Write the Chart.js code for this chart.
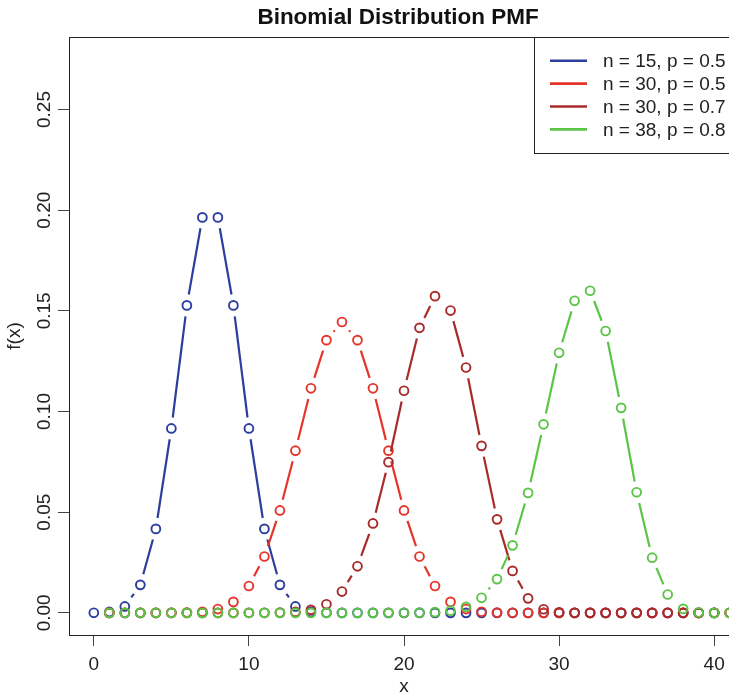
<!DOCTYPE html>
<html>
<head>
<meta charset="utf-8">
<script src="https://cdn.jsdelivr.net/npm/chart.js@4/dist/chart.umd.min.js"></script>
<style>
  html, body { margin: 0; padding: 0; background: #fff; overflow: hidden; }
  canvas { display: block; }
</style>
</head>
<body>
<canvas id="chart1" width="760" height="698"></canvas>
<script>
// x positions: first series starts at 0, the others are drawn one step to the right
const xBlue = [0,1,2,3,4,5,6,7,8,9,10,11,12,13,14,15,16,17,18,19,20,21,22,23,24,25,26,27,28,29,30,31,32,33,34,35,36,37,38,39,40];
const xOther = [1,2,3,4,5,6,7,8,9,10,11,12,13,14,15,16,17,18,19,20,21,22,23,24,25,26,27,28,29,30,31,32,33,34,35,36,37,38,39,40,41];

const n15p5 = [0.00003,0.00046,0.0032,0.0139,0.0417,0.0916,0.1527,0.1964,0.1964,0.1527,0.0916,0.0417,0.0139,0.0032,0.00046,0.00003,
  0,0,0,0,0,0,0,0,0,0,0,0,0,0,0,0,0,0,0,0,0,0,0,0,0];
const n30p5 = [0,0.00000003,0.0000004,0.0000038,0.0000255,0.000133,0.000553,0.001896,0.005451,0.013325,0.027982,0.050876,0.080553,0.111535,0.135435,0.144464,
  0.135435,0.111535,0.080553,0.050876,0.027982,0.013325,0.005451,0.001896,0.000553,0.000133,0.0000255,0.0000038,0.0000004,0.00000003,0,
  0,0,0,0,0,0,0,0,0,0];
const n30p7 = [0,0,0,0,0,0,0.00000002,0.00000016,0.00000106,0.00000604,0.0000296,0.0001256,0.000464,0.001499,0.004246,0.01057,
  0.02312,0.04442,0.07485,0.11031,0.14156,0.15729,0.15014,0.12186,0.08293,0.04644,0.02084,0.007204,0.001801,0.00029,0.0000225,
  0,0,0,0,0,0,0,0,0,0];
const n38p8 = [0,0,0,0,0,0,0,0,0,0,0,0,0,0,0,0,0.00000026,0.00000135,0.0000063,0.0000267,0.0001015,0.000348,0.001076,0.002993,0.007482,
  0.01676,0.03352,0.05958,0.09363,0.12915,0.15498,0.15998,0.13998,0.10181,0.05989,0.02738,0.009126,0.001973,0.000208,0,0];

const seriesNames = ['n = 15, p = 0.5', 'n = 30, p = 0.5', 'n = 30, p = 0.7', 'n = 38, p = 0.8'];
const seriesColors = ['#2d3f9e', '#e5352a', '#a82a2b', '#5cc548'];
const xTicks = [0, 10, 20, 30, 40];
const yTicks = [0, 0.05, 0.10, 0.15, 0.20, 0.25];
const yTickLabels = ['0.00', '0.05', '0.10', '0.15', '0.20', '0.25'];

const FONT = '"Liberation Sans", Arial, sans-serif';

function pts(xs, ys) {
  return xs.map((x, i) => ({ x: x, y: ys[i] }));
}

function mkSet(i, xs, ys) {
  return {
    label: seriesNames[i],
    data: pts(xs, ys),
    showLine: false,
    borderColor: seriesColors[i],
    backgroundColor: 'rgba(0,0,0,0)',
    pointRadius: 4.4,
    pointHoverRadius: 4.4,
    pointBorderWidth: 1.9,
    pointBackgroundColor: 'rgba(0,0,0,0)',
    pointBorderColor: seriesColors[i],
    order: 4 - i
  };
}

// R type="b": line segments stop short of each point
const gapLines = {
  id: 'gapLines',
  beforeDatasetDraw(chart, args) {
    const ctx = chart.ctx;
    const els = args.meta.data;
    const gap = 11;
    ctx.save();
    ctx.strokeStyle = seriesColors[args.index];
    ctx.lineWidth = 2.2;
    ctx.lineCap = 'butt';
    for (let i = 0; i < els.length - 1; i++) {
      const a = els[i], b = els[i + 1];
      const dx = b.x - a.x, dy = b.y - a.y;
      const len = Math.sqrt(dx * dx + dy * dy);
      if (len <= 2 * gap) continue;
      const ux = dx / len, uy = dy / len;
      ctx.beginPath();
      ctx.moveTo(a.x + ux * gap, a.y + uy * gap);
      ctx.lineTo(b.x - ux * gap, b.y - uy * gap);
      ctx.stroke();
    }
    ctx.restore();
  },
  afterDraw(chart) {
    const ctx = chart.ctx;
    const area = chart.chartArea;
    ctx.save();
    // plot box
    ctx.strokeStyle = '#222';
    ctx.lineWidth = 1;
    ctx.strokeRect(Math.round(area.left) + 0.5, Math.round(area.top) + 0.5,
      Math.round(area.right - area.left), Math.round(area.bottom - area.top));

    // title
    ctx.fillStyle = '#111';
    ctx.font = 'bold 22.5px ' + FONT;
    ctx.textAlign = 'center';
    ctx.textBaseline = 'alphabetic';
    ctx.fillText('Binomial Distribution PMF', 398, 23.5);

    // rotated y tick labels
    const ys = chart.scales.y;
    ctx.font = '19px ' + FONT;
    ctx.fillStyle = '#222';
    yTicks.forEach((v, i) => {
      const py = ys.getPixelForValue(v);
      ctx.save();
      ctx.translate(50, py);
      ctx.rotate(-Math.PI / 2);
      ctx.textAlign = 'center';
      ctx.textBaseline = 'alphabetic';
      ctx.fillText(yTickLabels[i], 0, 0);
      ctx.restore();
    });

    // legend box, top right
    const lx = 534, ly = Math.round(area.top);
    ctx.fillStyle = '#fff';
    ctx.fillRect(lx, ly, area.right - lx, 116);
    ctx.strokeStyle = '#222';
    ctx.strokeRect(lx + 0.5, ly + 0.5, area.right - lx, 116);
    ctx.font = '19px ' + FONT;
    ctx.textAlign = 'left';
    ctx.textBaseline = 'middle';
    seriesNames.forEach((name, i) => {
      const ry = 60.7 + i * 22.9;
      ctx.strokeStyle = seriesColors[i];
      ctx.lineWidth = 2.6;
      ctx.beginPath();
      ctx.moveTo(550, ry);
      ctx.lineTo(587, ry);
      ctx.stroke();
      ctx.fillStyle = '#222';
      ctx.fillText(name, 603, ry + 1);
    });
    ctx.restore();
  }
};

const ctx = document.getElementById('chart1').getContext('2d');
const chart = new Chart(ctx, {
  type: 'scatter',
  data: {
    datasets: [
      mkSet(0, xBlue, n15p5),
      mkSet(1, xOther, n30p5),
      mkSet(2, xOther, n30p7),
      mkSet(3, xOther, n38p8)
    ]
  },
  options: {
    responsive: false,
    animation: false,
    devicePixelRatio: 1,
    layout: { padding: { top: 37, right: 21, left: 0, bottom: 0 } },
    plugins: {
      legend: { display: false },
      title: { display: false },
      tooltip: { enabled: false }
    },
    scales: {
      x: {
        type: 'linear',
        min: -1.6,
        max: 41.6,
        afterBuildTicks: s => { s.ticks = xTicks.map(v => ({ value: v })); },
        afterFit: s => { s.height = 63; },
        grid: { drawOnChartArea: false, drawTicks: true, tickLength: 11, color: '#444', tickWidth: 1 },
        border: { display: false },
        ticks: {
          color: '#222',
          font: { family: FONT, size: 19 },
          padding: 7,
          maxRotation: 0,
          autoSkip: false
        },
        title: {
          display: true,
          text: 'x',
          color: '#222',
          font: { family: FONT, size: 19 },
          padding: { top: 0, bottom: 0 }
        }
      },
      y: {
        type: 'linear',
        min: -0.011,
        max: 0.286,
        afterBuildTicks: s => { s.ticks = yTicks.map(v => ({ value: v })); },
        afterFit: s => { s.width = 69; },
        grid: { drawOnChartArea: false, drawTicks: true, tickLength: 11, color: '#444', tickWidth: 1 },
        border: { display: false },
        ticks: { display: false },
        title: {
          display: true,
          text: 'f(x)',
          color: '#222',
          font: { family: FONT, size: 19 },
          padding: { top: 3, bottom: 0 }
        }
      }
    }
  },
  plugins: [gapLines]
});
</script>
</body>
</html>
